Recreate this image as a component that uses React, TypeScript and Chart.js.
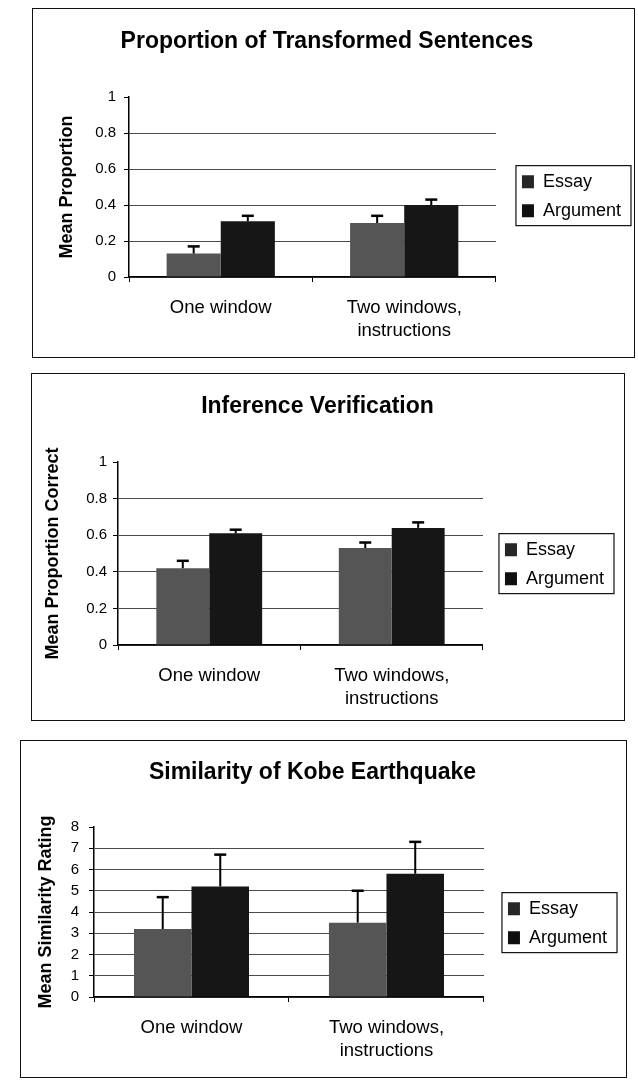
import React, { useEffect, useRef } from "react";
import { Chart, registerables } from "chart.js";

Chart.register(...registerables);
Chart.defaults.font.family = "'Liberation Sans', Arial, Helvetica, sans-serif";
Chart.defaults.color = "#000";

// ---------- data ----------
const categories: (string | string[])[] = ["One window", ["Two windows,", "instructions"]];
const seriesNames = ["Essay", "Argument"];

const proportionEssay = [0.13, 0.3];
const proportionEssayUpper = [0.17, 0.34];
const proportionArgument = [0.31, 0.4];
const proportionArgumentUpper = [0.34, 0.43];

const inferenceEssay = [0.42, 0.53];
const inferenceEssayUpper = [0.46, 0.56];
const inferenceArgument = [0.61, 0.64];
const inferenceArgumentUpper = [0.63, 0.67];

const similarityEssay = [3.2, 3.5];
const similarityEssayUpper = [4.7, 5.0];
const similarityArgument = [5.2, 5.8];
const similarityArgumentUpper = [6.7, 7.3];

const proportionAxis = [0, 1, 0.2]; // min, max, step
const inferenceAxis = [0, 1, 0.2];
const similarityAxis = [0, 8, 1];

// ---------- styles ----------
const ESSAY_COLOR = "#555555";
const ARG_COLOR = "#161616";
const LEGEND_COLORS = ["#262626", "#0f0f0f"];

const errorBars = {
  id: "errorBars",
  afterDatasetsDraw(chart: any, _args: any, opts: any) {
    const { ctx } = chart;
    const y = chart.scales.y;
    const uppers: number[][] = opts.upper || [];
    chart.data.datasets.forEach((_ds: any, i: number) => {
      const meta = chart.getDatasetMeta(i);
      const up = uppers[i];
      if (!up) return;
      meta.data.forEach((bar: any, j: number) => {
        const x = bar.x;
        const yTop = bar.y;
        const yErr = y.getPixelForValue(up[j]);
        ctx.save();
        ctx.strokeStyle = "#000";
        ctx.lineWidth = 2;
        ctx.beginPath();
        ctx.moveTo(x, yTop);
        ctx.lineTo(x, yErr);
        ctx.stroke();
        ctx.lineWidth = 2.5;
        ctx.beginPath();
        ctx.moveTo(x - 6, yErr);
        ctx.lineTo(x + 6, yErr);
        ctx.stroke();
        ctx.restore();
      });
    });
  },
};

const legendShift = {
  id: "legendShift",
  afterUpdate(chart: any, _args: any, opts: any) {
    const lg = chart.legend;
    if (!lg) return;
    const dx = opts.dx || 0;
    const dy = opts.dy || 0;
    lg.left += dx;
    lg.right += dx;
    lg.top += dy;
    lg.bottom += dy;
    (lg.legendHitBoxes || []).forEach((h: any) => {
      h.left += dx;
      h.top += dy;
    });
  },
  afterDraw(chart: any) {
    const lg = chart.legend;
    const hb = lg && lg.legendHitBoxes;
    if (!hb || !hb.length) return;
    const left = Math.min(...hb.map((h: any) => h.left)) - 6;
    const right = Math.max(...hb.map((h: any) => h.left + h.width)) + 10;
    const top = Math.min(...hb.map((h: any) => h.top)) - 7;
    const bottom = Math.max(...hb.map((h: any) => h.top + h.height)) + 6;
    const { ctx } = chart;
    ctx.save();
    ctx.strokeStyle = "#111";
    ctx.lineWidth = 1.2;
    ctx.strokeRect(left, top, right - left, bottom - top);
    ctx.restore();
  },
};

type PanelProps = {
  title: string;
  yTitle: string;
  essay: number[];
  essayUpper: number[];
  argument: number[];
  argumentUpper: number[];
  axis: number[];
  box: { left: number; top: number; width: number; height: number };
  canvasH: number;
  titlePad: [number, number];
  yTitlePad: [number, number];
  padLeft: number;
  padRight: number;
  padBottom: number;
  tickPad: number;
  catPct: number;
  legendDx: number;
  legendDy: number;
};

function Panel(p: PanelProps) {
  const ref = useRef<HTMLCanvasElement>(null);
  const innerW = p.box.width - 2;
  useEffect(() => {
    const canvas = ref.current;
    if (!canvas) return;
    const [yMin, yMax, yStep] = p.axis;
    const chart = new Chart(canvas, {
      type: "bar",
      data: {
        labels: categories,
        datasets: [
          { label: seriesNames[0], data: p.essay, backgroundColor: ESSAY_COLOR, borderWidth: 0 },
          { label: seriesNames[1], data: p.argument, backgroundColor: ARG_COLOR, borderWidth: 0 },
        ],
      },
      options: {
        responsive: false,
        animation: false,
        devicePixelRatio: 1,
        layout: { padding: { top: 0, left: p.padLeft, right: p.padRight, bottom: p.padBottom } },
        datasets: { bar: { categoryPercentage: p.catPct, barPercentage: 1 } },
        plugins: {
          title: {
            display: true,
            text: p.title,
            color: "#000",
            font: { size: 23, weight: "bold" },
            padding: { top: p.titlePad[0], bottom: p.titlePad[1] },
          },
          legend: {
            position: "right",
            labels: {
              boxWidth: 12,
              boxHeight: 13,
              padding: 11,
              color: "#000",
              font: { size: 18 },
              generateLabels: (c: any) => {
                const items = (Chart.defaults.plugins.legend.labels as any).generateLabels(c);
                return items.map((it: any, i: number) => ({
                  ...it,
                  fillStyle: LEGEND_COLORS[i],
                  strokeStyle: LEGEND_COLORS[i],
                  lineWidth: 0,
                }));
              },
            },
          },
          tooltip: { enabled: false },
          errorBars: { upper: [p.essayUpper, p.argumentUpper] },
          legendShift: { dx: p.legendDx, dy: p.legendDy },
        } as any,
        scales: {
          x: {
            grid: {
              display: true,
              drawOnChartArea: false,
              drawTicks: true,
              tickLength: 5,
              color: "#000",
              offset: true,
            },
            border: { display: true, color: "#000", width: 1.5 },
            ticks: {
              color: "#000",
              font: { size: 18.5, lineHeight: 1.25 },
              padding: 14,
              maxRotation: 0,
              autoSkip: false,
            },
          },
          y: {
            min: yMin,
            max: yMax,
            ticks: {
              stepSize: yStep,
              color: "#000",
              font: { size: 15 },
              padding: p.tickPad,
              callback: (v: any) => String(Number(Number(v).toFixed(2))),
            },
            grid: {
              color: (c: any) =>
                c.tick && Math.abs(c.tick.value - yMax) < 1e-9 ? "rgba(0,0,0,0)" : "#4a4a4a",
              tickColor: "#000",
              tickLength: 5,
              lineWidth: 1,
            },
            border: { display: true, color: "#000", width: 1.5 },
            title: {
              display: true,
              text: p.yTitle,
              color: "#000",
              font: { size: 18, weight: "bold" },
              padding: { top: p.yTitlePad[0], bottom: p.yTitlePad[1] },
            },
          },
        },
      },
      plugins: [errorBars, legendShift],
    } as any);
    return () => chart.destroy();
  }, []);
  return (
    <div
      style={{
        position: "absolute",
        left: p.box.left,
        top: p.box.top,
        width: p.box.width,
        height: p.box.height,
        border: "1px solid #111",
        boxSizing: "border-box",
      }}
    >
      <canvas
        ref={ref}
        width={innerW}
        height={p.canvasH}
        style={{ position: "absolute", left: 0, top: 0, width: innerW, height: p.canvasH }}
      />
    </div>
  );
}

export default function App() {
  return (
    <div style={{ position: "relative", width: 638, height: 1084, overflow: "hidden", background: "#fff" }}>
      <style>{"html,body{margin:0;padding:0;overflow:hidden;}"}</style>
      <Panel
        title="Proportion of Transformed Sentences"
        yTitle="Mean Proportion"
        essay={proportionEssay}
        essayUpper={proportionEssayUpper}
        argument={proportionArgument}
        argumentUpper={proportionArgumentUpper}
        axis={proportionAxis}
        box={{ left: 32, top: 8, width: 603, height: 350 }}
        canvasH={348}
        titlePad={[19.2, 41.2]}
        yTitlePad={[18.2, 9.35]}
        padLeft={5}
        padRight={18}
        padBottom={0.75}
        tickPad={8}
        catPct={0.59}
        legendDx={15}
        legendDy={13.5}
      />
      <Panel
        title="Inference Verification"
        yTitle="Mean Proportion Correct"
        essay={inferenceEssay}
        essayUpper={inferenceEssayUpper}
        argument={inferenceArgument}
        argumentUpper={inferenceArgumentUpper}
        axis={inferenceAxis}
        box={{ left: 31, top: 373, width: 594, height: 348 }}
        canvasH={351}
        titlePad={[19.2, 41.2]}
        yTitlePad={[10.2, 16.35]}
        padLeft={0}
        padRight={21}
        padBottom={0.75}
        tickPad={6}
        catPct={0.58}
        legendDx={11}
        legendDy={15}
      />
      <Panel
        title="Similarity of Kobe Earthquake"
        yTitle="Mean Similarity Rating"
        essay={similarityEssay}
        essayUpper={similarityEssayUpper}
        argument={similarityArgument}
        argumentUpper={similarityArgumentUpper}
        axis={similarityAxis}
        box={{ left: 20, top: 740, width: 607, height: 338 }}
        canvasH={336}
        titlePad={[18.2, 40.2]}
        yTitlePad={[14.2, 3.86]}
        padLeft={0}
        padRight={22}
        padBottom={0.75}
        tickPad={10}
        catPct={0.59}
        legendDx={13}
        legendDy={14.5}
      />
    </div>
  );
}
